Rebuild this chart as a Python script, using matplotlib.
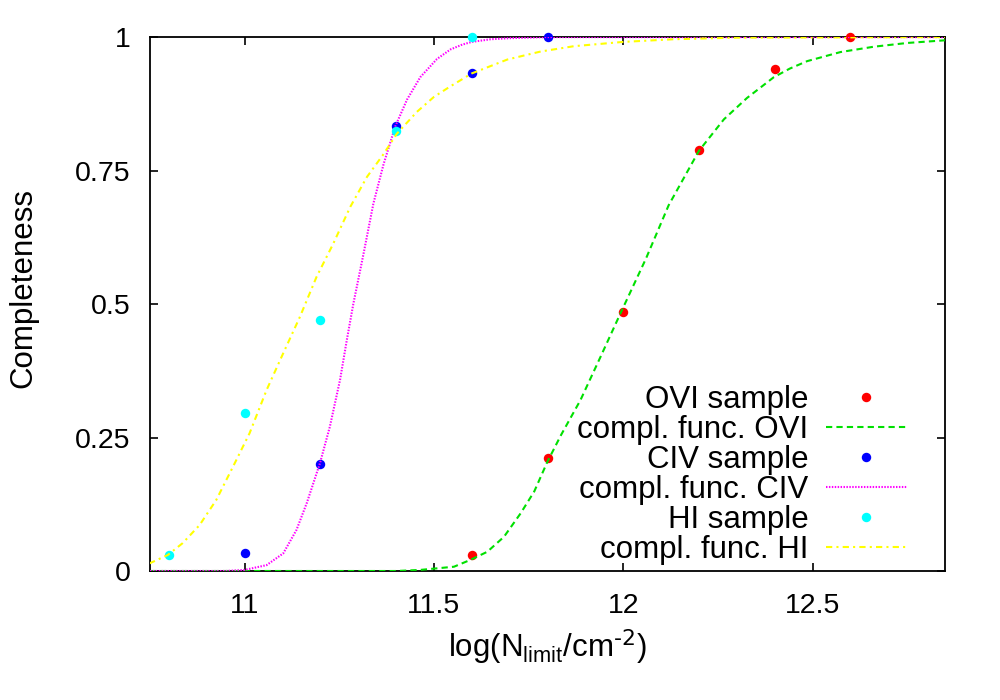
import matplotlib
matplotlib.use("Agg")
import matplotlib.pyplot as plt

plt.rcParams['font.family'] = ['Liberation Sans', 'DejaVu Sans']
plt.rcParams['mathtext.default'] = 'regular'

# ---- data: samples ----
ovi_x = [11.6, 11.8, 12.0, 12.2, 12.4, 12.6]
ovi_y = [0.03, 0.212, 0.485, 0.788, 0.94, 1.0]
civ_x = [11.0, 11.2, 11.4, 11.6, 11.8]
civ_y = [0.033, 0.2, 0.833, 0.933, 1.0]
hi_x = [10.8, 11.0, 11.2, 11.4, 11.6]
hi_y = [0.03, 0.295, 0.47, 0.825, 1.0]

# ---- data: completeness functions ----
ovi_fx = [10.75, 11.40, 11.464, 11.553, 11.597, 11.641, 11.685, 11.729, 11.765,
          11.80, 11.836, 11.887, 11.94, 11.993, 12.06, 12.12, 12.2, 12.266,
          12.327, 12.398, 12.44, 12.486, 12.574, 12.662, 12.75, 12.85]
ovi_fy = [0.0, 0.0, 0.002, 0.008, 0.021, 0.036, 0.064, 0.108, 0.149,
          0.205, 0.255, 0.32, 0.401, 0.483, 0.585, 0.685, 0.787, 0.846,
          0.886, 0.925, 0.941, 0.955, 0.972, 0.982, 0.989, 0.994]

civ_fx = [10.75, 10.95, 11.0, 11.058, 11.102, 11.137, 11.164, 11.199, 11.225,
          11.252, 11.27, 11.287, 11.314, 11.34, 11.367, 11.398, 11.429, 11.464,
          11.508, 11.544, 11.575, 11.6, 11.65, 11.7, 11.8, 12.85]
civ_fy = [0.0, 0.0, 0.002, 0.011, 0.033, 0.077, 0.127, 0.202, 0.27,
          0.358, 0.433, 0.50, 0.594, 0.688, 0.762, 0.833, 0.883, 0.925,
          0.959, 0.977, 0.986, 0.991, 0.996, 0.998, 1.0, 1.0]

hi_fx = [10.748, 10.797, 10.836, 10.881, 10.925, 10.969, 11.013, 11.058, 11.102,
         11.146, 11.19, 11.234, 11.279, 11.323, 11.367, 11.402, 11.455, 11.5,
         11.544, 11.6, 11.694, 11.782, 11.87, 12.0, 12.134, 12.3, 12.85]
hi_fy = [0.014, 0.030, 0.052, 0.086, 0.133, 0.195, 0.258, 0.339, 0.408,
         0.476, 0.551, 0.613, 0.682, 0.738, 0.781, 0.819, 0.86, 0.888,
         0.908, 0.932, 0.958, 0.973, 0.983, 0.991, 0.996, 0.999, 1.0]

x_ticks = [11, 11.5, 12, 12.5]
x_tick_labels = ['11', '11.5', '12', '12.5']
y_ticks = [0, 0.25, 0.5, 0.75, 1]
y_tick_labels = ['0', '0.25', '0.5', '0.75', '1']

FS = 20.5
LFS = 22.5

fig = plt.figure(figsize=(10, 7), dpi=100)
ax = fig.add_axes([0.15, 0.1843, 0.795, 0.7627])

ms = 6.8
lw = 1.5
ax.plot(ovi_x, ovi_y, 'o', color='#ff0000', ms=ms, mec='none', clip_on=False,
        zorder=3, label='OVI sample')
ax.plot(ovi_fx, ovi_fy, color='#00e000', lw=lw, dashes=(3, 2), zorder=4,
        label='compl. func. OVI')
ax.plot(civ_x, civ_y, 'o', color='#0000ff', ms=ms, mec='none', clip_on=False,
        zorder=5, label='CIV sample')
ax.plot(civ_fx, civ_fy, color='#ff00ff', lw=lw, dashes=(0.7, 0.7), zorder=6,
        label='compl. func. CIV')
ax.plot(hi_x, hi_y, 'o', color='#00ffff', ms=ms, mec='none', clip_on=False,
        zorder=7, label='HI sample')
ax.plot(hi_fx, hi_fy, color='#ffff00', lw=lw, dashes=(3, 2, 1, 2), zorder=8,
        label='compl. func. HI')

ax.set_xlim(10.75, 12.85)
ax.set_ylim(0, 1)
ax.set_xticks(x_ticks)
ax.set_xticklabels(x_tick_labels)
ax.set_yticks(y_ticks)
ax.set_yticklabels(y_tick_labels)
ax.tick_params(direction='in', length=6, width=1.2, top=True, right=True,
               labelsize=FS)
ax.tick_params(axis='x', pad=16)
ax.tick_params(axis='y', pad=14)
for s in ax.spines.values():
    s.set_linewidth(1.3)

ax.set_xlabel(r'log(N$_{limit}$/cm$^{\text{-2}}$)', fontsize=LFS, labelpad=6)
ax.set_ylabel('Completeness', fontsize=LFS)
ax.yaxis.set_label_coords(-0.14, 0.53)

leg = ax.legend(loc='lower right', bbox_to_anchor=(0.952, 0.012),
                frameon=False, markerfirst=False, fontsize=LFS,
                handlelength=2.6, handletextpad=0.55, labelspacing=0.0,
                borderpad=0, borderaxespad=0)

fig.savefig('out.png', dpi=100)
